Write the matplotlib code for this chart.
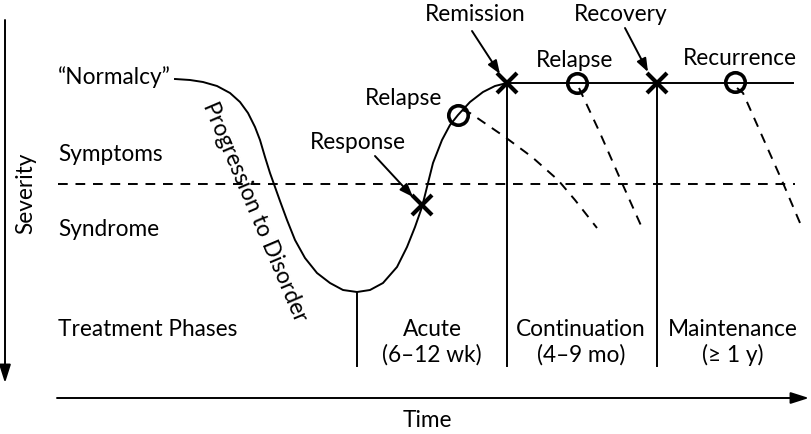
import matplotlib.pyplot as plt

plt.rcParams['font.family'] = ['Lato', 'DejaVu Sans']

# --- data (pixel coordinates, y down) ---
course_x = [175, 190, 203, 217, 230, 240, 248, 255, 260, 265, 270, 275, 280,
            287, 295, 305, 317, 330, 343, 357, 370, 383, 397, 407, 415, 422,
            427, 433, 442, 450, 458, 470, 483, 495, 507, 793]
course_y = [79, 80, 82, 86, 93, 102, 113, 127, 140, 157, 173, 187, 201,
            220, 240, 258, 273, 283, 290, 292, 290, 283, 267, 247, 227, 207,
            187, 163, 140, 125, 115, 102, 92, 86, 83, 83]

relapse1_x = [462, 470, 505, 532, 558, 575, 597]
relapse1_y = [110, 113, 137, 157, 180, 200, 228]
relapse2_x = [579, 600, 622, 643]
relapse2_y = [88, 133, 183, 230]
recur_x = [737, 743, 783, 803]
recur_y = [88, 93, 183, 230]

threshold_y = 184
phase_x = [357, 507, 657]
phase_top = [292, 83, 83]
phase_bottom = 366

cross_x = [422, 507, 657]
cross_y = [205, 83, 83]
circle_x = [458, 577, 735]
circle_y = [115, 83, 82]

left_labels = ['\u201cNormalcy\u201d', 'Symptoms', 'Syndrome', 'Treatment Phases']
left_base = [84, 161, 236, 336]

phase_names = ['Acute', 'Continuation', 'Maintenance']
phase_len = ['(6\u201312 wk)', '(4\u20139 mo)', '(\u2265 1 y)']
phase_cx = [432, 581, 733]

fig = plt.figure(figsize=(8.12, 4.34), dpi=100)
ax = fig.add_axes([0, 0, 1, 1])
ax.set_xlim(0, 812)
ax.set_ylim(434, 0)
ax.axis('off')

fs = 16.3
lw = 1.4

ax.plot(course_x, course_y, color='k', lw=lw, solid_joinstyle='round')
ax.plot([58, 795], [threshold_y, threshold_y], 'k--', lw=lw, dashes=(5, 4))
for xs, ys in [(relapse1_x, relapse1_y), (relapse2_x, relapse2_y), (recur_x, recur_y)]:
    ax.plot(xs, ys, 'k--', lw=lw, dashes=(5, 4))
for x, t in zip(phase_x, phase_top):
    ax.plot([x, x], [t, phase_bottom], color='k', lw=lw)

ax.plot(cross_x, cross_y, 'kx', ms=14, mew=3, ls='none')
ax.plot(circle_x, circle_y, 'o', ms=14, mfc='none', mec='k', mew=2.6, ls='none')

# axes arrows
arr = dict(arrowstyle='-|>,head_length=1.1,head_width=0.35', color='k', lw=lw,
           shrinkA=0, shrinkB=0)
ax.annotate('', xy=(5, 383), xytext=(5, 20), arrowprops=arr)
ax.annotate('', xy=(809, 398), xytext=(57, 398), arrowprops=arr)
ax.text(26, 193, 'Severity', rotation=90, ha='center', va='center', fontsize=fs)
ax.text(427, 427, 'Time', ha='center', va='baseline', fontsize=fs)

for lab, yb in zip(left_labels, left_base):
    ax.text(58, yb, lab, ha='left', va='baseline', fontsize=fs)

for name, ln, cx in zip(phase_names, phase_len, phase_cx):
    ax.text(cx, 336, name, ha='center', va='baseline', fontsize=fs)
    ax.text(cx, 362, ln, ha='center', va='baseline', fontsize=fs)

ax.text(255, 212, 'Progression to Disorder', rotation=-67, rotation_mode='anchor',
        ha='center', va='center', fontsize=fs)

# event labels
ax.text(358, 149, 'Response', ha='center', va='baseline', fontsize=fs)
ax.text(404, 105, 'Relapse', ha='center', va='baseline', fontsize=fs)
ax.text(575, 67, 'Relapse', ha='center', va='baseline', fontsize=fs)
ax.text(740, 65, 'Recurrence', ha='center', va='baseline', fontsize=fs)
ax.text(475, 21, 'Remission', ha='center', va='baseline', fontsize=fs)
ax.text(621, 21, 'Recovery', ha='center', va='baseline', fontsize=fs)

ptr = dict(arrowstyle='-|>,head_length=0.8,head_width=0.3', color='k', lw=lw,
           shrinkA=0, shrinkB=0)
ax.annotate('', xy=(413, 197), xytext=(375, 156), arrowprops=ptr)
ax.annotate('', xy=(500, 74), xytext=(472, 31), arrowprops=ptr)
ax.annotate('', xy=(648, 72), xytext=(625, 28), arrowprops=ptr)

fig.savefig('out.png', dpi=100, facecolor='white')
